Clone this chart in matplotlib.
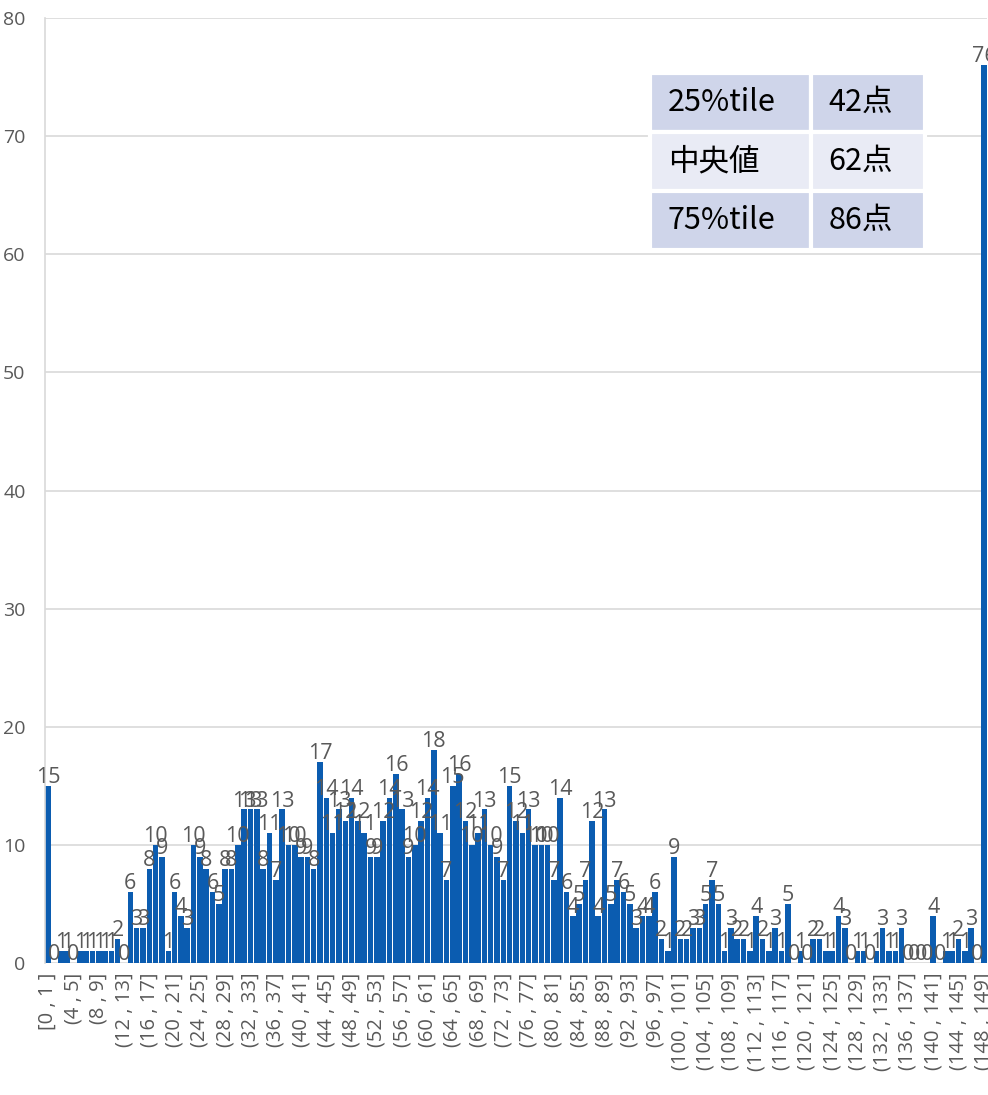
import matplotlib.pyplot as plt

# score histogram: bins [0,1], (1,2], ... (148,149]
counts = [
    15, 0, 1, 1, 0, 1, 1, 1, 1, 1,
    1, 2, 0, 6, 3, 3, 8, 10, 9, 1,
    6, 4, 3, 10, 9, 8, 6, 5, 8, 8,
    10, 13, 13, 13, 8, 11, 7, 13, 10, 10,
    9, 9, 8, 17, 14, 11, 13, 12, 14, 12,
    11, 9, 9, 12, 14, 16, 13, 9, 10, 12,
    14, 18, 11, 7, 15, 16, 12, 10, 11, 13,
    10, 9, 7, 15, 12, 11, 13, 10, 10, 10,
    7, 14, 6, 4, 5, 7, 12, 4, 13, 5,
    7, 6, 5, 3, 4, 4, 6, 2, 1, 9,
    2, 2, 3, 3, 5, 7, 5, 1, 3, 2,
    2, 1, 4, 2, 1, 3, 1, 5, 0, 1,
    0, 2, 2, 1, 1, 4, 3, 0, 1, 1,
    0, 1, 3, 1, 1, 3, 0, 0, 0, 0,
    4, 0, 1, 1, 2, 1, 3, 0, 76,
]
bin_labels = ['[0 , 1 ]'] + [f'({i} , {i + 1}]' for i in range(1, len(counts))]
label_step = 4

stat_names = ['25%tile', '中央値', '75%tile']
stat_values = ['42点', '62点', '86点']

bar_color = '#0b5cb0'
text_gray = '#595959'
grid_gray = '#d9d9d9'

fig = plt.figure(figsize=(9.88, 10.95), dpi=100)
ax = fig.add_axes([45 / 988, 132 / 1095, 942 / 988, 945 / 1095])

x = list(range(len(counts)))
ax.bar(x, counts, width=0.88, color=bar_color, zorder=2)

for i, v in zip(x, counts):
    ax.annotate(str(v), (i, v), xytext=(0, -1.5), textcoords='offset points',
                ha='center', va='bottom', fontsize=15.5, color=text_gray,
                family='Open Sans', zorder=3)

ax.set_xlim(-0.5, len(counts) - 0.5)
ax.set_ylim(0, 80)
ax.set_yticks(range(0, 81, 10))
ax.yaxis.grid(True, color=grid_gray, lw=1.2, zorder=0)
ax.set_axisbelow(True)

ticks = x[::label_step]
ax.set_xticks(ticks)
ax.set_xticklabels([bin_labels[t] for t in ticks], rotation=90,
                   fontsize=14.5, color=text_gray, family='Open Sans')
ax.tick_params(axis='x', length=0, pad=7)
ax.tick_params(axis='y', length=0, pad=14, labelsize=14, labelcolor=text_gray)
for lab in ax.get_yticklabels():
    lab.set_family('Open Sans')

for side in ['top', 'right', 'bottom']:
    ax.spines[side].set_visible(False)
ax.spines['left'].set_color(grid_gray)
ax.spines['left'].set_linewidth(1.2)

# summary table in the upper right
cell_text = [[n, v] for n, v in zip(stat_names, stat_values)]
shades = ['#cfd5ea', '#e9ebf5', '#cfd5ea']
cell_colours = [[c, c] for c in shades]
tbl = ax.table(cellText=cell_text, cellColours=cell_colours,
               colWidths=[0.586, 0.414], cellLoc='left',
               bbox=[605 / 942, (963 - 250) / 945, 275 / 942, 177 / 945],
               zorder=5)
tbl.auto_set_font_size(False)
for (r, c), cell in tbl.get_celld().items():
    cell.set_edgecolor('white')
    cell.set_linewidth(3)
    cell.PAD = 0.11 if c == 0 else 0.15
    cell.get_text().set_fontsize(22)
    cell.get_text().set_family(['Noto Sans CJK JP', 'DejaVu Sans'])
    cell.get_text().set_color('black')

fig.savefig('out.png', dpi=100)
